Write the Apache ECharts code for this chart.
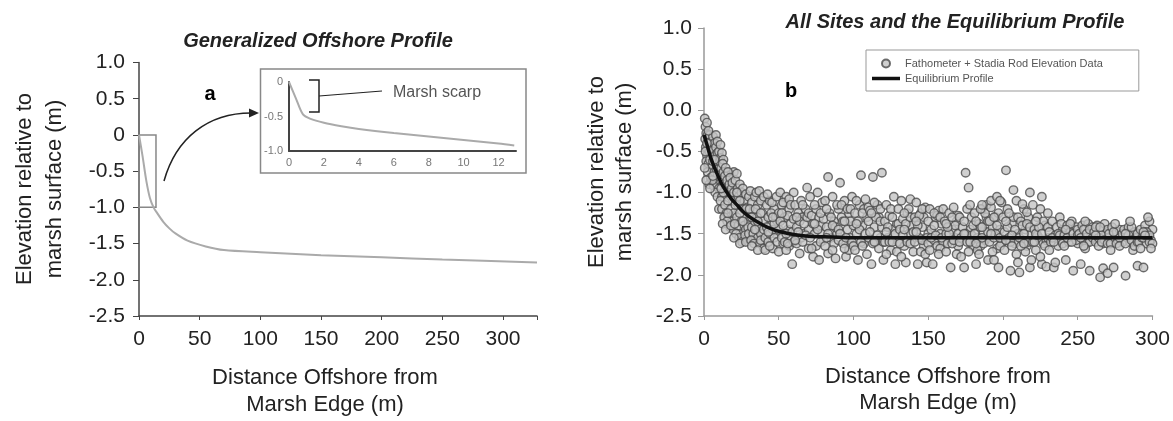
<!DOCTYPE html>
<html>
<head>
<meta charset="utf-8">
<script src="https://cdn.jsdelivr.net/npm/echarts@6/dist/echarts.min.js"></script>
<style>
  html, body { margin: 0; padding: 0; background: #fff; }
  #chart { width: 1173px; height: 421px; }
</style>
</head>
<body>
<div id="chart"></div>
<script>
// panel a: generalized offshore profile (distance m, elevation m)
const generalizedProfile = [
  [0, 0], [3, -0.3], [6, -0.63], [9, -0.87], [12, -1.0], [15, -1.08], [20, -1.2],
  [25, -1.29], [30, -1.36], [40, -1.46], [55, -1.54], [70, -1.59], [100, -1.62],
  [150, -1.66], [200, -1.69], [250, -1.72], [328, -1.76]
]
// box drawn round the first part of the profile
const zoomBox = [[0, 0], [14, -1.0]]

// inset: first 13 m of the profile
const insetProfile = [
  [0, 0], [0.4, -0.24], [0.8, -0.47], [1.2, -0.53], [2, -0.59], [3, -0.64], [4, -0.68],
  [6, -0.74], [8, -0.79], [10, -0.84], [12, -0.89], [12.9, -0.92]
]

// panel b: fathometer + stadia rod points
const fieldPoints = [
  [0.5,-0.1],[1,-0.2],[1.5,-0.28],[0.8,-0.35],[1.2,-0.45],[2,-0.15],[2.5,-0.3],[3,-0.4],[2,-0.55],[3.5,-0.5],
  [1.5,-0.62],[3,-0.65],[4,-0.3],[4.5,-0.45],[4,-0.6],[5,-0.38],[5,-0.7],[2.5,-0.75],[4.5,-0.82],[3.5,-0.9],
  [6,-0.32],[6.5,-0.48],[7,-0.4],[7.5,-0.55],[6,-0.62],[8,-0.45],[8.5,-0.6],[9,-0.52],[9.5,-0.68],[10,-0.5],
  [10.5,-0.62],[7,-0.75],[8,-0.85],[6.5,-0.92],[9,-0.8],[10,-0.95],[7.5,-1.0],[9,-1.05],[5.5,-0.85],[8.5,-0.72],
  [10.5,-0.78],[11,-0.58],
  [1,-0.5],[2,-0.4],[3,-0.25],[0.5,-0.7],[1.5,-0.85],[4,-0.95],[6,-0.8],[7,-0.6],[8,-0.3],[9,-0.38],
  [11,-0.42],[12,-0.52],[13,-0.6],[14,-0.98],[16,-0.92],[18,-0.78],[20,-0.75],[12,-1.05],[10,-1.2],[14,-1.3],
  [11.5,-0.7],[12,-0.85],[12.5,-0.65],[13,-0.75],[13.5,-0.9],[14,-0.8],[14.5,-0.7],[15,-0.95],[15.5,-0.85],[16,-0.75],
  [16.5,-1.0],[17,-0.9],[17.5,-0.82],[18,-1.05],[18.5,-0.95],[19,-0.88],[19.5,-1.1],[20,-1.0],[11,-1.1],[12,-1.2],
  [13,-1.0],[14,-1.15],[15,-1.25],[16,-1.1],[17,-1.3],[18,-1.2],[19,-1.35],[20,-1.25],[11.5,-0.95],[13.5,-1.3],
  [15.5,-1.35],[17.5,-1.42],[19.5,-1.45],[12.5,-1.38],[14.5,-1.45],[16,-1.25],[18,-1.4],
  [21,-0.85],[22,-0.77],[22.5,-0.95],[23,-1.05],[24,-0.9],[24.5,-1.15],[25,-1.0],[26,-0.95],[26.5,-1.2],[27,-1.1],
  [28,-1.02],[28.5,-1.3],[29,-1.18],[30,-1.05],[21,-1.15],[22,-1.3],[23,-1.4],[24,-1.25],[25,-1.35],[26,-1.5],
  [27,-1.4],[28,-1.45],[29,-1.55],[30,-1.35],[21.5,-1.5],[23.5,-1.55],[25.5,-1.6],[27.5,-1.52],[29.5,-1.42],[20.5,-1.38],
  [22,-1.0],[24,-1.1],[26,-1.35],[28,-1.2],[30,-1.5],[20,-1.55],[24,-1.62],[28,-1.6],
  [31,-0.98],[32,-1.12],[33,-1.22],[34,-1.05],[35,-1.0],[36,-1.15],[37,-0.98],[38,-1.1],[39,-1.25],[40,-1.05],
  [31,-1.3],[32,-1.42],[33,-1.5],[34,-1.35],[35,-1.45],[36,-1.55],[37,-1.4],[38,-1.5],[39,-1.6],[40,-1.45],
  [31.5,-1.58],[33.5,-1.62],[35.5,-1.3],[37.5,-1.62],[39.5,-1.35],[38,-1.58],[40,-1.68],[30.5,-1.2],[34.5,-1.2],
  [32,-1.3],[34,-1.45],[36,-1.35],[38,-1.25],[32,-1.65],[36,-1.7],
  [41,-1.7],[42,-1.15],[43,-1.3],[44,-1.1],[45,-1.4],[46,-1.68],[47,-1.2],[48,-1.5],[49,-1.35],[50,-1.72],
  [41,-1.55],[42,-1.42],[43,-1.6],[44,-1.5],[45,-1.25],[46,-1.45],[47,-1.55],[48,-1.3],[49,-1.6],[50,-1.45],
  [42.5,-1.02],[45.5,-1.12],[48.5,-1.05],[44,-1.65],[47,-1.38],[50,-1.25],[43,-1.48],[46,-1.3],
  [51,-1.0],[52,-1.15],[53,-1.62],[54,-1.3],[55,-1.05],[56,-1.45],[57,-1.2],[58,-1.55],[59,-1.87],[60,-1.0],
  [51,-1.35],[52,-1.55],[53,-1.4],[54,-1.6],[55,-1.5],[56,-1.28],[57,-1.65],[58,-1.38],[59,-1.48],[60,-1.6],
  [53,-1.12],[57,-1.08],[60,-1.32],[55,-1.7],[52,-1.25],[56,-1.62],[58,-1.15],
  [61,-1.15],[62,-1.42],[63,-1.25],[64,-1.74],[65,-1.55],[66,-1.3],[67,-1.5],[68,-1.2],[69,-0.94],[70,-1.45],
  [62,-1.62],[64,-1.35],[66,-1.6],[68,-1.52],[70,-1.68],[61,-1.58],[65,-1.1],[67,-1.38],[69,-1.3],[63,-1.48],
  [62,-1.3],[66,-1.15],[70,-1.25],
  [71,-1.05],[72,-1.28],[73,-1.78],[74,-1.5],[75,-1.2],[76,-1.0],[77,-1.82],[78,-1.4],[79,-1.12],[80,-1.58],
  [71,-1.55],[73,-1.38],[75,-1.65],[77,-1.3],[79,-1.5],[72,-1.68],[74,-1.15],[76,-1.45],[78,-1.6],[80,-1.32],
  [74,-1.38],[78,-1.25],
  [81,-1.1],[82,-1.42],[83,-0.81],[83,-1.74],[84,-1.25],[85,-1.55],[86,-1.05],[87,-1.35],[88,-1.8],[89,-1.5],
  [90,-1.2],[81,-1.65],[83,-1.5],[85,-1.3],[87,-1.62],[89,-1.15],[82,-1.2],[86,-1.7],[88,-1.42],[90,-1.58],
  [82,-1.55],[86,-1.4],[90,-1.45],
  [91,-0.88],[92,-1.3],[93,-1.62],[94,-1.1],[95,-1.78],[96,-1.45],[97,-1.25],[98,-1.55],[99,-1.05],[100,-1.4],
  [91,-1.5],[93,-1.35],[95,-1.55],[97,-1.7],[99,-1.6],[92,-1.15],[94,-1.68],[96,-1.2],[98,-1.35],[100,-1.65],
  [94,-1.35],[98,-1.2],
  [101,-1.25],[102,-1.5],[103,-1.82],[104,-1.15],[105,-0.79],[106,-1.4],[107,-1.62],[108,-1.08],[109,-1.3],[110,-1.55],
  [101,-1.7],[103,-1.35],[105,-1.6],[107,-1.2],[109,-1.75],[102,-1.1],[104,-1.45],[106,-1.65],[108,-1.5],[110,-1.35],
  [102,-1.38],[106,-1.25],[110,-1.18],
  [111,-1.22],[112,-1.87],[113,-0.81],[114,-1.42],[115,-1.6],[116,-1.15],[117,-1.3],[118,-1.55],[119,-0.76],[120,-1.82],
  [111,-1.48],[113,-1.62],[115,-1.3],[117,-1.68],[119,-1.42],[112,-1.25],[114,-1.12],[116,-1.52],[118,-1.2],[120,-1.6],
  [114,-1.6],[118,-1.35],
  [121,-1.35],[122,-1.15],[123,-1.55],[124,-1.28],[125,-1.7],[126,-1.45],[127,-1.05],[128,-1.87],[129,-1.38],[130,-1.6],
  [121,-1.6],[123,-1.42],[125,-1.2],[127,-1.52],[129,-1.72],[122,-1.75],[124,-1.6],[126,-1.3],[128,-1.5],[130,-1.2],
  [122,-1.48],[126,-1.6],[130,-1.38],
  [131,-1.45],[132,-1.1],[133,-1.32],[134,-1.65],[135,-1.85],[136,-1.25],[137,-1.5],[138,-1.08],[139,-1.4],[140,-1.72],
  [131,-1.62],[133,-1.52],[135,-1.38],[137,-1.2],[139,-1.58],[132,-1.78],[134,-1.45],[136,-1.6],[138,-1.3],[140,-1.48],
  [134,-1.25],[138,-1.62],
  [141,-1.3],[142,-1.12],[143,-1.87],[144,-1.55],[145,-1.25],[146,-1.42],[147,-1.65],[148,-1.18],[149,-1.85],[150,-1.5],
  [141,-1.6],[143,-1.4],[145,-1.72],[147,-1.3],[149,-1.55],[142,-1.48],[144,-1.28],[146,-1.58],[148,-1.75],[150,-1.35],
  [142,-1.35],[146,-1.2],[150,-1.62],
  [151,-1.2],[152,-1.45],[153,-1.87],[154,-1.58],[155,-1.3],[156,-1.65],[157,-1.22],[158,-1.5],[159,-1.38],[160,-1.6],
  [151,-1.7],[152,-1.55],[154,-1.4],[156,-1.28],[158,-1.68],[160,-1.2],[155,-1.52],[157,-1.75],[159,-1.55],
  [154,-1.25],[158,-1.3],
  [161,-1.35],[162,-1.5],[163,-1.62],[165,-1.91],[164,-1.25],[166,-1.45],[167,-1.18],[168,-1.55],[169,-1.35],[170,-1.65],
  [162,-1.72],[164,-1.5],[166,-1.62],[168,-1.4],[170,-1.28],[163,-1.42],[167,-1.58],[169,-1.75],
  [162,-1.38],[166,-1.3],[170,-1.5],
  [171,-1.3],[172,-1.55],[174,-1.91],[175,-0.76],[176,-1.2],[177,-0.94],[178,-1.45],[179,-1.3],[180,-1.65],
  [171,-1.6],[173,-1.42],[175,-1.5],[177,-1.72],[179,-1.52],[172,-1.78],[174,-1.35],[176,-1.6],[178,-1.15],[180,-1.4],
  [174,-1.5],[178,-1.6],
  [181,-1.25],[182,-1.87],[183,-1.55],[184,-1.38],[185,-1.65],[186,-1.2],[187,-1.48],[188,-1.58],[189,-1.3],[190,-1.82],
  [181,-1.5],[183,-1.7],[185,-1.42],[187,-1.62],[189,-1.15],[182,-1.35],[184,-1.75],[186,-1.55],[188,-1.25],[190,-1.48],
  [182,-1.62],[186,-1.42],[190,-1.35],[185,-1.2],
  [191,-1.6],[192,-1.18],[193,-1.42],[194,-1.55],[195,-1.3],[196,-1.68],[197,-1.91],[198,-1.45],[199,-1.12],[200,-1.58],
  [191,-1.35],[193,-1.72],[195,-1.5],[197,-1.25],[199,-1.62],[192,-1.5],[194,-1.82],[196,-1.4],[198,-1.65],[200,-1.3],
  [186,-1.15],[192,-1.1],[196,-1.05],[198,-1.1],[194,-1.3],[198,-1.55],
  [201,-1.48],[202,-0.73],[203,-1.2],[204,-1.55],[205,-1.95],[206,-1.38],[207,-0.97],[208,-1.62],[209,-1.1],[210,-1.5],
  [201,-1.7],[203,-1.42],[205,-1.6],[207,-1.3],[209,-1.75],[202,-1.58],[204,-1.25],[206,-1.65],[208,-1.45],[210,-1.85],
  [202,-1.35],[206,-1.52],[210,-1.3],
  [211,-1.97],[212,-1.35],[213,-1.58],[214,-1.2],[215,-1.45],[216,-1.65],[217,-1.3],[218,-1.0],[218,-1.91],[219,-1.5],
  [220,-1.15],[211,-1.55],[213,-1.4],[215,-1.72],[217,-1.6],[219,-1.82],[212,-1.65],[214,-1.5],[216,-1.38],[220,-1.6],
  [213,-1.14],[216,-1.24],[214,-1.62],[218,-1.42],
  [221,-1.45],[222,-1.7],[223,-1.3],[224,-1.55],[225,-1.2],[226,-1.05],[226,-1.87],[227,-1.62],[228,-1.4],[229,-1.58],
  [230,-1.25],[221,-1.6],[223,-1.52],[225,-1.78],[227,-1.35],[229,-1.9],[222,-1.5],[224,-1.42],[228,-1.65],[230,-1.55],
  [222,-1.35],[226,-1.5],[230,-1.42],
  [231,-1.48],[232,-1.6],[233,-1.35],[234,-1.91],[235,-1.52],[236,-1.42],[237,-1.65],[238,-1.3],[239,-1.58],[240,-1.45],
  [231,-1.7],[233,-1.55],[235,-1.85],[237,-1.5],[239,-1.38],[240,-1.62],[234,-1.6],[238,-1.52],
  [241,-1.52],[242,-1.82],[243,-1.4],[244,-1.6],[245,-1.48],[246,-1.35],[247,-1.95],[248,-1.55],[249,-1.42],[250,-1.62],
  [241,-1.65],[243,-1.55],[245,-1.38],[247,-1.5],[249,-1.58],[250,-1.45],[242,-1.45],[246,-1.6],[250,-1.52],
  [251,-1.5],[252,-1.87],[253,-1.4],[254,-1.58],[255,-1.45],[256,-1.62],[257,-1.38],[258,-1.95],[259,-1.52],[260,-1.42],
  [252,-1.55],[254,-1.45],[256,-1.5],[258,-1.6],[260,-1.55],[255,-1.68],[254,-1.65],[258,-1.45],[255,-1.35],
  [261,-1.48],[262,-1.6],[263,-1.4],[264,-1.55],[265,-2.03],[266,-1.45],[267,-1.62],[268,-1.38],[269,-1.5],[270,-1.55],
  [262,-1.42],[264,-1.65],[266,-1.52],[268,-1.58],[270,-1.45],[267,-1.92],[270,-1.98],[262,-1.52],[266,-1.6],[270,-1.62],
  [265,-1.42],
  [271,-1.5],[272,-1.62],[273,-1.42],[274,-1.91],[275,-1.55],[276,-1.48],[277,-1.58],[278,-1.45],[279,-1.52],[280,-1.6],
  [272,-1.7],[276,-1.62],[278,-1.55],[280,-1.5],[274,-1.48],[278,-1.65],[275,-1.38],
  [281,-1.45],[282,-2.01],[283,-1.55],[284,-1.42],[285,-1.6],[286,-1.5],[287,-1.7],[288,-1.48],[289,-1.55],[290,-1.89],
  [282,-1.62],[284,-1.52],[286,-1.58],[288,-1.65],[290,-1.5],[282,-1.5],[286,-1.42],[290,-1.6],[285,-1.35],
  [291,-1.6],[292,-1.45],[293,-1.55],[294,-1.91],[295,-1.4],[296,-1.62],[297,-1.5],[298,-1.35],[299,-1.58],[300,-1.45],
  [292,-1.68],[294,-1.55],[296,-1.48],[298,-1.6],[300,-1.62],[297,-1.3],[299,-1.68],[294,-1.48],[298,-1.52],[295,-1.52]
]

// panel b: equilibrium profile
const equilibriumProfile = [
  [0, -0.3], [2, -0.42], [4, -0.55], [6, -0.65], [8, -0.74], [10, -0.82], [12, -0.9],
  [15, -0.99], [18, -1.07], [22, -1.15], [26, -1.23], [30, -1.29], [35, -1.35], [40, -1.4],
  [45, -1.44], [50, -1.47], [60, -1.51], [70, -1.53], [85, -1.54], [100, -1.55],
  [150, -1.55], [200, -1.55], [250, -1.55], [300, -1.55]
]

const FONT = '"Liberation Sans", Arial, sans-serif'

const chart = echarts.init(document.getElementById('chart'), null, { renderer: 'canvas' })

function elevLabel(zeroText) {
  return function (v) {
    if (Math.abs(v) < 1e-9) return zeroText
    return v.toFixed(1)
  }
}

function txt(x, y, text, opt) {
  return {
    type: 'text', x: x, y: y, rotation: opt.rotation || 0, silent: true,
    style: Object.assign({
      text: text, fill: '#222', fontFamily: FONT,
      align: 'center', textAlign: 'center',
      verticalAlign: 'middle', textVerticalAlign: 'middle'
    }, opt.style)
  }
}

const option = {
  animation: false,
  backgroundColor: '#fff',
  grid: [
    { left: 139, top: 62.5, width: 398, height: 253.5 },   // a
    { left: 289, top: 82, width: 227, height: 69 },        // inset
    { left: 704, top: 28, width: 452, height: 288 }        // b
  ],
  xAxis: [
    {
      gridIndex: 0, type: 'value', min: 0, max: 328, interval: 50,
      axisLine: { onZero: false, lineStyle: { color: '#444', width: 1.5 } },
      axisTick: { show: true, length: 4, lineStyle: { color: '#444' } },
      splitLine: { show: false },
      axisLabel: {
        margin: 13, fontSize: 21, color: '#222', fontFamily: FONT,
        formatter: v => (v % 50 === 0 ? String(v) : '')
      }
    },
    {
      gridIndex: 1, type: 'value', min: 0, max: 13, interval: 2,
      axisLine: { onZero: false, lineStyle: { color: '#444', width: 2 } },
      axisTick: { show: false },
      splitLine: { show: false },
      axisLabel: {
        margin: 6, fontSize: 11, color: '#777', fontFamily: FONT,
        formatter: v => (v % 2 === 0 ? String(v) : '')
      }
    },
    {
      gridIndex: 2, type: 'value', min: 0, max: 300, interval: 50,
      axisLine: { onZero: false, lineStyle: { color: '#999', width: 1.5 } },
      axisTick: { show: true, length: 4, lineStyle: { color: '#999' } },
      splitLine: { show: false },
      axisLabel: { margin: 13, fontSize: 21, color: '#222', fontFamily: FONT }
    }
  ],
  yAxis: [
    {
      gridIndex: 0, type: 'value', min: -2.5, max: 1, interval: 0.5,
      axisLine: { show: true, onZero: false, lineStyle: { color: '#444', width: 1.5 } },
      axisTick: { show: true, length: 6, lineStyle: { color: '#444' } },
      splitLine: { show: false },
      axisLabel: { margin: 14, fontSize: 21, color: '#222', fontFamily: FONT, formatter: elevLabel('0') }
    },
    {
      gridIndex: 1, type: 'value', min: -1, max: 0, interval: 0.5,
      axisLine: { show: true, onZero: false, lineStyle: { color: '#444', width: 2 } },
      axisTick: { show: false },
      splitLine: { show: false },
      axisLabel: { margin: 6, fontSize: 11, color: '#777', fontFamily: FONT, formatter: elevLabel('0') }
    },
    {
      gridIndex: 2, type: 'value', min: -2.5, max: 1, interval: 0.5,
      axisLine: { show: true, onZero: false, lineStyle: { color: '#999', width: 1.5 } },
      axisTick: { show: true, length: 6, lineStyle: { color: '#999' } },
      splitLine: { show: false },
      axisLabel: { margin: 12, fontSize: 21, color: '#222', fontFamily: FONT, formatter: elevLabel('0.0') }
    }
  ],
  legend: {
    data: [
      { name: 'Fathometer + Stadia Rod Elevation Data', icon: 'circle' },
      { name: 'Equilibrium Profile', icon: 'path://M0,0H28V3.5H0Z' }
    ],
    orient: 'vertical',
    left: 866, top: 50,
    padding: [8, 36, 7, 6],
    itemGap: 4, itemWidth: 28, itemHeight: 8,
    borderColor: '#999', borderWidth: 1,
    textStyle: { fontSize: 11, color: '#555', fontFamily: FONT }
  },
  series: [
    {
      type: 'line', xAxisIndex: 0, yAxisIndex: 0, data: generalizedProfile,
      smooth: 0.3, symbol: 'none', silent: true,
      lineStyle: { color: '#aaa', width: 2 },
      markArea: {
        silent: true,
        itemStyle: { color: 'rgba(0,0,0,0)', borderColor: '#888', borderWidth: 1.5 },
        data: [[{ coord: zoomBox[0] }, { coord: zoomBox[1] }]]
      }
    },
    {
      type: 'line', xAxisIndex: 1, yAxisIndex: 1, data: insetProfile,
      smooth: 0.3, symbol: 'none', silent: true,
      lineStyle: { color: '#aaa', width: 2 }
    },
    {
      name: 'Fathometer + Stadia Rod Elevation Data',
      type: 'scatter', xAxisIndex: 2, yAxisIndex: 2, data: fieldPoints,
      symbol: 'circle', symbolSize: 8.5, silent: true,
      itemStyle: { color: '#c4c4c4', borderColor: '#4a4a4a', borderWidth: 1.4 }
    },
    {
      name: 'Equilibrium Profile',
      type: 'line', xAxisIndex: 2, yAxisIndex: 2, data: equilibriumProfile,
      smooth: 0.3, symbol: 'none', silent: true,
      lineStyle: { color: '#111', width: 3.5 },
      itemStyle: { color: '#111' }
    }
  ],
  graphic: [
    // titles
    txt(318, 41, 'Generalized Offshore Profile', { style: { fontSize: 20, fontWeight: 'bold', fontStyle: 'italic' } }),
    txt(955, 22, 'All Sites and the Equilibrium Profile', { style: { fontSize: 20, fontWeight: 'bold', fontStyle: 'italic' } }),
    // panel letters
    txt(210, 94, 'a', { style: { fontSize: 20, fontWeight: 'bold', fill: '#000' } }),
    txt(791, 91, 'b', { style: { fontSize: 20, fontWeight: 'bold', fill: '#000' } }),
    // axis names
    txt(40, 189, 'Elevation relative to\nmarsh surface (m)', { rotation: Math.PI / 2, style: { fontSize: 22, lineHeight: 30 } }),
    txt(611, 172, 'Elevation relative to\nmarsh surface (m)', { rotation: Math.PI / 2, style: { fontSize: 22, lineHeight: 28 } }),
    txt(325, 391, 'Distance Offshore from\nMarsh Edge (m)', { style: { fontSize: 22, lineHeight: 27 } }),
    txt(938, 390, 'Distance Offshore from\nMarsh Edge (m)', { style: { fontSize: 22, lineHeight: 26 } }),
    // inset frame
    {
      type: 'rect', silent: true,
      shape: { x: 260.5, y: 69, width: 265.5, height: 104 },
      style: { fill: 'none', stroke: '#888', lineWidth: 1.5 }
    },
    // marsh scarp bracket and leader
    {
      type: 'polyline', silent: true,
      shape: { points: [[309, 80], [319, 80], [319, 112], [309, 112]] },
      style: { fill: 'none', stroke: '#222', lineWidth: 1.5 }
    },
    {
      type: 'line', silent: true,
      shape: { x1: 319, y1: 96, x2: 382, y2: 91 },
      style: { stroke: '#222', lineWidth: 1.2 }
    },
    txt(393, 93, 'Marsh scarp', { style: { fontSize: 16, fill: '#555', align: 'left', textAlign: 'left' } }),
    // curved arrow to inset
    {
      type: 'bezierCurve', silent: true,
      shape: { x1: 164, y1: 181, cpx1: 176, cpy1: 138, cpx2: 208, cpy2: 113, x2: 251, y2: 113 },
      style: { fill: 'none', stroke: '#222', lineWidth: 1.5 }
    },
    {
      type: 'polygon', silent: true,
      shape: { points: [[259, 113], [249, 108.5], [249, 117.5]] },
      style: { fill: '#222' }
    }
  ]
}

chart.setOption(option)
</script>
</body>
</html>
